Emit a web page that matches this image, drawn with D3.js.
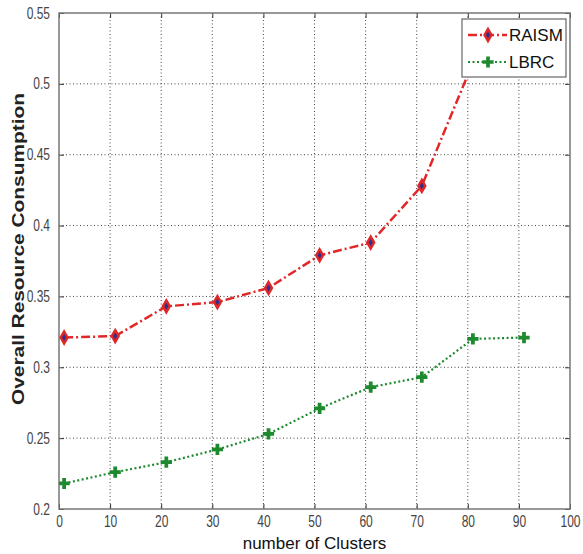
<!DOCTYPE html>
<html>
<head>
<meta charset="utf-8">
<script src="https://cdn.jsdelivr.net/npm/d3@7"></script>
<style>
  body { margin: 0; background: #fff; }
  .tick text { font-family: "Liberation Sans", Arial, sans-serif; font-size: 16px; fill: #444; }
  .grid line { stroke: #444; stroke-dasharray: 1,2.5; }
</style>
</head>
<body>
<script>
// data
var clusters = [1, 11, 21, 31, 41, 51, 61, 71, 81, 91];
var raism = [0.321, 0.322, 0.343, 0.346, 0.356, 0.379, 0.388, 0.428, 0.515];
var lbrc = [0.218, 0.226, 0.233, 0.242, 0.253, 0.271, 0.286, 0.293, 0.320, 0.321];
var xTicks = [0, 10, 20, 30, 40, 50, 60, 70, 80, 90, 100];
var yTicks = [0.2, 0.25, 0.3, 0.35, 0.4, 0.45, 0.5, 0.55];

var width = 583, height = 554;
var margin = {left: 59, right: 13, top: 13, bottom: 45};
var pw = width - margin.left - margin.right,
    ph = height - margin.top - margin.bottom;

var svg = d3.select("body").append("svg")
    .attr("width", width)
    .attr("height", height);

var g = svg.append("g")
    .attr("transform", "translate(" + margin.left + "," + margin.top + ")");

var x = d3.scaleLinear().domain([0, 100]).range([0, pw]);
var y = d3.scaleLinear().domain([0.2, 0.55]).range([ph, 0]);

// dotted grid
g.append("g").attr("class", "grid")
    .selectAll("line").data(xTicks.slice(1, -1)).enter().append("line")
    .attr("x1", d => x(d)).attr("x2", d => x(d))
    .attr("y1", 0).attr("y2", ph);
g.append("g").attr("class", "grid")
    .selectAll("line").data(yTicks.slice(1, -1)).enter().append("line")
    .attr("y1", d => y(d)).attr("y2", d => y(d))
    .attr("x1", 0).attr("x2", pw);

// axes, matlab style with inward ticks
var fmt = d => String(+d.toFixed(2));
g.append("g")
    .attr("transform", "translate(0," + ph + ")")
    .call(d3.axisBottom(x).tickValues(xTicks).tickSize(-5).tickPadding(7).tickFormat(d3.format("d")))
    .call(a => a.select(".domain").remove());
g.append("g")
    .call(d3.axisLeft(y).tickValues(yTicks).tickSize(-5).tickPadding(12).tickFormat(fmt))
    .call(a => a.select(".domain").remove());
g.append("g")
    .call(d3.axisTop(x).tickValues(xTicks).tickSize(-5).tickFormat(""))
    .call(a => a.select(".domain").remove());
g.append("g")
    .attr("transform", "translate(" + pw + ",0)")
    .call(d3.axisRight(y).tickValues(yTicks).tickSize(-5).tickFormat(""))
    .call(a => a.select(".domain").remove());
g.selectAll(".tick line").attr("stroke", "#333");
// narrow digits like the original
g.selectAll(".tick text").attr("transform", "scale(0.75,1)");

g.append("rect")
    .attr("width", pw).attr("height", ph)
    .attr("fill", "none").attr("stroke", "#777").attr("stroke-width", 1.5);

var clip = g.append("clipPath").attr("id", "clip")
    .append("rect").attr("width", pw).attr("height", ph);

var line = d3.line()
    .x((d, i) => x(clusters[i]))
    .y(d => y(d));

var red = "#e02828", blue = "#2b2f8f", green = "#1e8a2e";

var plot = g.append("g").attr("clip-path", "url(#clip)");

plot.append("path").datum(lbrc)
    .attr("d", line).attr("fill", "none")
    .attr("stroke", green).attr("stroke-width", 2.2)
    .attr("stroke-dasharray", "2,2.5");

plot.append("path").datum(raism)
    .attr("d", line).attr("fill", "none")
    .attr("stroke", red).attr("stroke-width", 2.5)
    .attr("stroke-dasharray", "9,3,2,3");

function diamond(sel, cx, cy) {
    sel.append("path")
        .attr("d", d3.symbol(d3.symbolDiamond, 55)())
        .attr("transform", "translate(" + cx + "," + cy + ")")
        .attr("fill", red).attr("stroke", red).attr("stroke-width", 1.5);
    sel.append("path")
        .attr("d", d3.symbol(d3.symbolDiamond, 14)())
        .attr("transform", "translate(" + cx + "," + cy + ")")
        .attr("fill", blue);
}
function cross(sel, cx, cy) {
    sel.append("path")
        .attr("d", d3.symbol(d3.symbolCross, 70)())
        .attr("transform", "translate(" + cx + "," + cy + ")")
        .attr("fill", green);
}

raism.forEach((v, i) => diamond(plot, x(clusters[i]), y(v)));
lbrc.forEach((v, i) => cross(plot, x(clusters[i]), y(v)));

// legend
var lg = g.append("g").attr("transform", "translate(" + (462 - margin.left) + "," + (19 - margin.top) + ")");
lg.append("rect").attr("width", 104).attr("height", 58)
    .attr("fill", "#fff").attr("stroke", "#666").attr("stroke-width", 1.2);
var names = ["RAISM", "LBRC"];
names.forEach(function(n, i) {
    var ly = 16 + i * 27;
    lg.append("line").attr("x1", 6).attr("x2", 45).attr("y1", ly).attr("y2", ly)
        .attr("stroke", i == 0 ? red : green)
        .attr("stroke-width", i == 0 ? 2.5 : 2.2)
        .attr("stroke-dasharray", i == 0 ? "9,3,2,3" : "2,2.5");
    if (i == 0) diamond(lg, 26, ly); else cross(lg, 26, ly);
    lg.append("text").attr("x", 47).attr("y", ly + 6)
        .attr("font-family", "Liberation Sans, Arial, sans-serif")
        .attr("font-size", 17).attr("fill", "#111").text(n);
});

// axis titles
svg.append("text")
    .attr("x", margin.left + pw / 2).attr("y", 549)
    .attr("text-anchor", "middle")
    .attr("font-family", "Liberation Sans, Arial, sans-serif")
    .attr("font-size", 17).attr("fill", "#111")
    .text("number of Clusters");
svg.append("text")
    .attr("transform", "translate(24,249) rotate(-90)")
    .attr("text-anchor", "middle")
    .attr("font-family", "Liberation Sans, Arial, sans-serif")
    .attr("font-size", 16).attr("font-weight", "bold").attr("fill", "#222")
    .attr("textLength", 312).attr("lengthAdjust", "spacingAndGlyphs")
    .text("Overall Resource Consumption");
</script>
</body>
</html>
